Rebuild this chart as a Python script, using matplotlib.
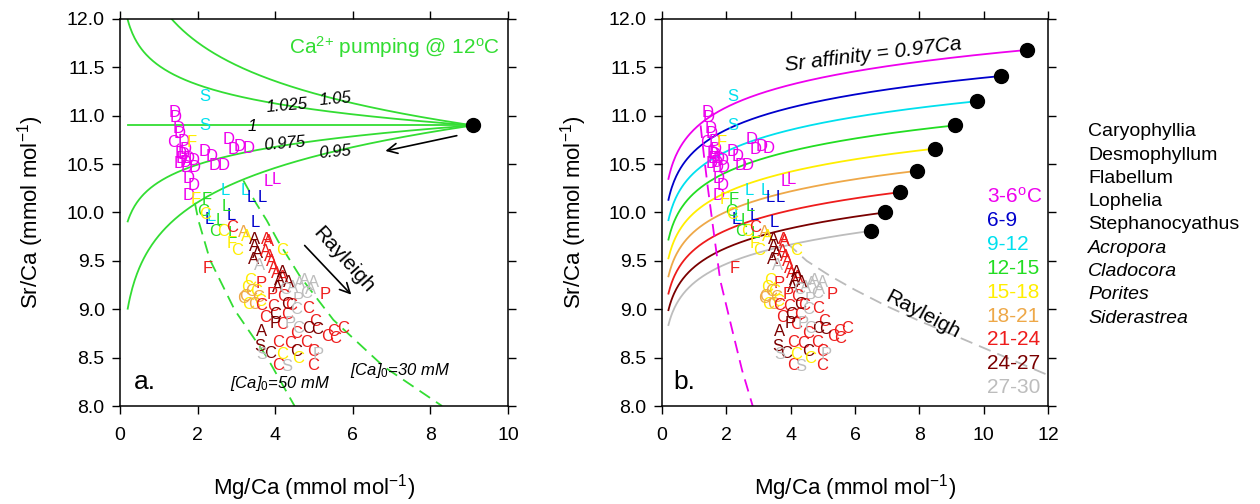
import matplotlib
matplotlib.use("Agg")
import matplotlib.pyplot as plt
import numpy as np

plt.rcParams["font.family"] = ["Liberation Sans", "DejaVu Sans"]
plt.rcParams["mathtext.fontset"] = "custom"
plt.rcParams["mathtext.rm"] = "Liberation Sans"
plt.rcParams["mathtext.it"] = "Liberation Sans:italic"
plt.rcParams["mathtext.default"] = "regular"

# temperature bins and their colours
temp_bins = ["3-6$^{o}$C", "6-9", "9-12", "12-15", "15-18", "18-21", "21-24", "24-27", "27-30"]
bin_colors = ["#ee00ee", "#0000cc", "#00e0ee", "#22dd22", "#ffee00",
              "#eea848", "#ee1c1c", "#7a0000", "#bdbdbd"]

genera_plain = ["Caryophyllia", "Desmophyllum", "Flabellum", "Lophelia", "Stephanocyathus"]
genera_italic = ["Acropora", "Cladocora", "Porites", "Siderastrea"]

# coral data: Mg/Ca, Sr/Ca, genus letter, temperature bin index
mg_ca = [1.42, 1.44, 1.50, 1.55, 1.37, 1.63, 1.68, 1.57, 1.65, 1.60, 1.55, 1.70, 1.76,
         1.89, 1.92, 1.72, 1.76, 1.89, 1.76, 2.79, 2.92, 3.09, 3.31, 2.19, 2.35, 2.43,
         2.66, 3.82, 4.02, 2.19, 2.19, 1.86, 2.71, 3.22, 2.36, 3.38, 3.67, 2.88, 3.48,
         2.30, 1.95, 2.23, 2.75, 2.58, 2.90, 2.15, 2.45, 2.19, 2.66, 3.01, 2.88, 2.88,
         2.25,
         3.18, 3.27, 3.48, 3.48, 3.44, 3.55, 3.78, 3.82, 3.74, 3.85, 3.91, 3.95, 4.04,
         4.20, 4.12, 4.05, 4.18, 4.17, 3.60, 4.64, 4.90, 4.75, 4.45, 5.00, 4.81, 4.60,
         5.28, 3.65, 3.91, 5.50, 3.27, 3.35, 3.50, 3.30, 3.62, 3.39, 3.22, 3.18, 3.45,
         3.55, 4.21, 3.65, 3.95, 4.42, 4.85, 3.74, 4.30, 4.17, 4.55, 5.03, 5.33, 5.54,
         5.75, 4.08, 4.38, 4.81, 4.98, 4.08, 4.98, 4.30, 4.00, 4.85, 5.07, 3.87, 4.55,
         3.99, 3.65, 3.61, 4.38, 4.60, 5.11, 4.55, 3.65, 4.30, 4.17, 4.60, 4.35, 4.25]
sr_ca = [11.03, 10.98, 10.87, 10.82, 10.72, 10.73, 10.65, 10.61, 10.60, 10.56, 10.51,
         10.52, 10.56, 10.54, 10.47, 10.46, 10.35, 10.28, 10.18, 10.75, 10.65, 10.68,
         10.66, 10.63, 10.58, 10.49, 10.49, 10.32, 10.34, 11.20, 10.90, 10.72, 10.23,
         10.23, 9.96, 10.15, 10.16, 9.97, 9.90, 9.93, 10.13, 10.13, 10.06, 9.92, 9.78,
         10.01, 9.80, 9.98, 9.80, 9.61, 9.68, 9.84, 9.42,
         9.79, 9.75, 9.72, 9.65, 9.51, 9.58, 9.72, 9.70, 9.60, 9.55, 9.49, 9.42, 9.37,
         9.33, 9.30, 9.22, 9.38, 9.61, 9.45, 9.27, 9.20, 9.30, 9.22, 9.28, 9.16, 9.10,
         9.15, 9.27, 9.15, 8.77, 9.22, 9.30, 9.18, 9.05, 9.08, 9.18, 9.13, 9.11, 9.05,
         9.12, 9.13, 9.04, 9.03, 9.04, 9.01, 8.91, 8.95, 8.84, 8.75, 8.87, 8.72, 8.70,
         8.80, 8.66, 8.65, 8.66, 8.56, 8.42, 8.42, 9.05, 8.95, 8.80, 8.79, 8.54, 8.56,
         8.85, 8.77, 8.61, 8.85, 8.80, 8.53, 9.00, 8.53, 8.41, 8.53, 8.49, 9.28, 9.20]
genus_letter = list("DDDDCDDDDDDDDDDDDDDDDDDDDDDLLSSFLLLLLLLLFFLLLCCCCCFCF"
                    "AAAAAAAAAAAAAAAAACAAAAAACPPPPCCCCCCCCCCCCCCCCCCCCCCCCCCCCCCCCCCCC"
                    "PASPCPCSSCCAC")
temp_bin = [0] * 29 + [2, 2, 4, 2, 2, 2, 1, 1, 1, 1, 1, 4, 3, 3, 3, 3, 3, 3, 4, 4, 4, 4, 6, 6] + \
           [5, 4, 7, 7, 7, 7, 6, 6, 6, 6, 6, 6, 6, 6, 7, 7, 7, 4, 8, 8, 8, 8, 8, 8, 8, 8,
            6, 6, 6, 6, 4, 4, 4, 4, 4, 5, 5, 5, 5, 5, 6, 6, 6, 6, 6, 6, 6, 6, 6, 6, 6, 6,
            6, 6, 6, 6, 6, 6, 6, 7, 7, 7, 7, 7, 7, 7, 7, 7, 8, 8, 8, 8, 8, 8, 4, 4, 7, 8]

# panel a: Ca pumping from seawater point at 12 C
pump_alpha = [1.05, 1.025, 1.0, 0.975, 0.95]
pump_labels = ["1.05", "1.025", "1", "0.975", "0.95"]
sw_mg, sw_sr = 9.1, 10.9

# panel a: Rayleigh curves (dashed green)
rayl50_mg = [1.93, 2.02, 2.32, 2.96, 3.78, 4.50]
rayl50_sr = [10.10, 9.92, 9.51, 8.99, 8.51, 8.00]
rayl30_mg = [3.18, 3.50, 3.78, 4.08, 4.64, 5.50, 6.79, 8.30]
rayl30_sr = [10.33, 10.10, 9.92, 9.70, 9.34, 8.89, 8.41, 8.00]

# panel b: seawater end points at each temperature, Sr affinity 0.97
end_mg = [11.36, 10.53, 9.80, 9.11, 8.49, 7.92, 7.40, 6.93, 6.50]
end_sr = [11.68, 11.41, 11.15, 10.90, 10.66, 10.43, 10.21, 10.00, 9.81]
sr_affinity = 0.97

# panel b: dashed curves
cold_mg = [1.20, 1.30, 1.42, 1.61, 1.81, 2.18, 2.49, 2.82]
cold_sr = [10.90, 10.60, 10.27, 9.79, 9.30, 8.79, 8.37, 8.00]
warm_mg = [3.90, 4.50, 5.20, 6.00, 7.00, 8.00, 9.30, 10.50, 12.00]
warm_sr = [9.68, 9.50, 9.35, 9.20, 9.03, 8.88, 8.70, 8.53, 8.32]

fig = plt.figure(figsize=(12.6, 5.04), dpi=100)
ax1 = fig.add_axes([0.0952, 0.1944, 0.308, 0.768])
ax2 = fig.add_axes([0.5254, 0.1944, 0.3063, 0.768])


def style_axes(ax, xmax):
    ax.set_xlim(0, xmax)
    ax.set_ylim(8, 12)
    ax.set_xticks(np.arange(0, xmax + 1, 2))
    ax.set_yticks(np.arange(8, 12.01, 0.5))
    ax.yaxis.set_major_formatter(plt.FormatStrFormatter("%.1f"))
    ax.tick_params(direction="out", top=True, right=True, length=6, width=1,
                   labelsize=14, pad=5)
    ax.tick_params(axis="x", pad=9)
    for s in ax.spines.values():
        s.set_linewidth(1.1)
    ax.set_xlabel("Mg/Ca (mmol mol$^{-1}$)", fontsize=16)
    ax.set_ylabel("Sr/Ca (mmol mol$^{-1}$)", fontsize=16)
    ax.xaxis.set_label_coords(0.5, -0.17)
    ax.yaxis.set_label_coords(-0.19, 0.5)


def draw_corals(ax):
    for x, y, g, b in zip(mg_ca, sr_ca, genus_letter, temp_bin):
        ax.text(x, y, g, color=bin_colors[b], fontsize=12, ha="center", va="center",
                clip_on=True, zorder=4)


# ---- panel a ----
style_axes(ax1, 10)
xx = np.linspace(0.2, sw_mg, 300)
for a in pump_alpha:
    ax1.plot(xx, sw_sr * (xx / sw_mg) ** (1 - a), color="#33dd33", lw=1.3, zorder=2)
ax1.plot(rayl50_mg, rayl50_sr, color="#33dd33", lw=1.3, ls=(0, (7, 4)))
ax1.plot(rayl30_mg, rayl30_sr, color="#33dd33", lw=1.3, ls=(0, (7, 4)))
ax1.plot([sw_mg], [sw_sr], "o", color="black", ms=10, zorder=5)

lab_pos = [(5.54, 11.17, 5), (4.30, 11.10, 5), (3.42, 10.89, 0), (4.25, 10.71, 5), (5.54, 10.62, 5)]
for t, (x, y, r) in zip(pump_labels, lab_pos):
    ax1.text(x, y, t, fontsize=12, style="italic", ha="center", va="center", rotation=r)

ax1.text(9.8, 11.71, "Ca$^{2{+}}$ pumping @ 12$^{o}$C", color="#33dd33", fontsize=15,
         ha="right", va="center")
ax1.annotate("", xy=(6.77, 10.63), xytext=(8.75, 10.80),
             arrowprops=dict(arrowstyle="->", color="black", lw=1.2, mutation_scale=18))
ax1.annotate("", xy=(6.01, 9.13), xytext=(4.71, 9.68),
             arrowprops=dict(arrowstyle="->", color="black", lw=1.2, mutation_scale=18))
ax1.text(5.76, 9.51, "Rayleigh", fontsize=15, rotation=-48, ha="center", va="center")
ax1.text(4.12, 8.23, "[Ca]$_{\\mathit{0}}$=50 mM", fontsize=12, style="italic",
         ha="center", va="center")
ax1.text(7.22, 8.37, "[Ca]$_{\\mathit{0}}$=30 mM", fontsize=12, style="italic",
         ha="center", va="center")
ax1.text(0.35, 8.25, "a.", fontsize=19, ha="left", va="center")
draw_corals(ax1)

# ---- panel b ----
style_axes(ax2, 12)
for m, s, c in zip(end_mg, end_sr, bin_colors):
    xx = np.linspace(0.2, m, 300)
    ax2.plot(xx, s * (xx / m) ** (1 - sr_affinity), color=c, lw=1.3, zorder=2)
ax2.plot(end_mg, end_sr, "o", color="black", ms=10, zorder=5)
ax2.plot(cold_mg, cold_sr, color="#ee00ee", lw=1.3, ls=(0, (7, 4)))
ax2.plot(warm_mg, warm_sr, color="#bbbbbb", lw=1.3, ls=(0, (7, 4)))

ax2.text(6.57, 11.63, "Sr affinity = 0.97Ca", fontsize=15, style="italic",
         rotation=7, ha="center", va="center")
ax2.text(8.09, 8.94, "Rayleigh", fontsize=15, rotation=-28, ha="center", va="center")
for i, (t, c) in enumerate(zip(temp_bins, bin_colors)):
    ax2.text(10.09, 10.16 - i * 0.246, t, color=c, fontsize=15, ha="left", va="center")
ax2.text(0.35, 8.25, "b.", fontsize=19, ha="left", va="center")
draw_corals(ax2)

# genus key
for i, g in enumerate(genera_plain + genera_italic):
    fig.text(0.8635, 1 - (131.7 + i * 23.3) / 504, g, fontsize=14, ha="left", va="center",
             style="italic" if g in genera_italic else "normal")

fig.savefig("out.png", dpi=100)
